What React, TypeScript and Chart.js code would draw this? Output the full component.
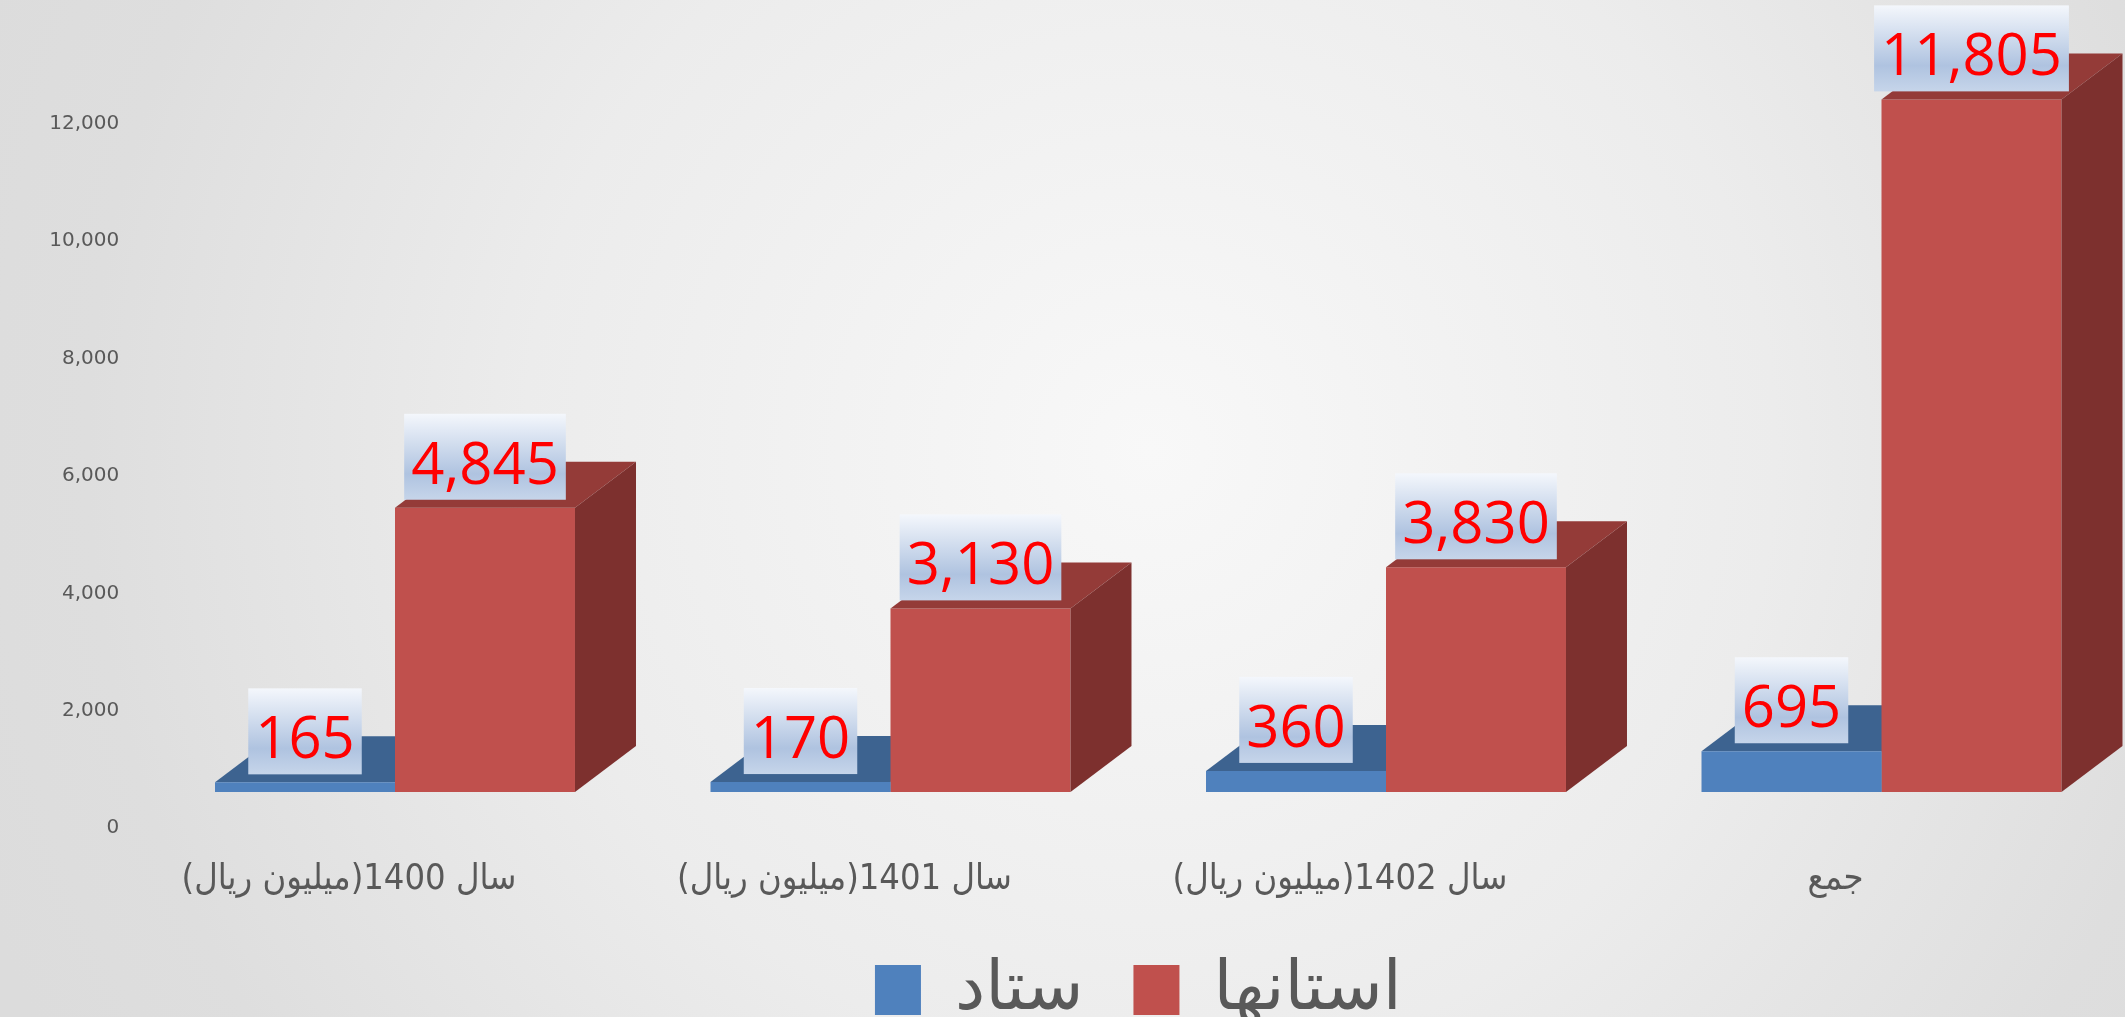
import React, { useEffect, useRef } from "react";
import { Chart, registerables } from "chart.js";

Chart.register(...registerables);

// ---- data ----
const categories = [
  "سال 1400(میلیون ریال)",
  "سال 1401(میلیون ریال)",
  "سال 1402(میلیون ریال)",
  "جمع",
];
const seriesNames = ["ستاد", "استانها"];
const setadValues = [165, 170, 360, 695];
const ostanhaValues = [4845, 3130, 3830, 11805];
const yTickValues = [0, 2000, 4000, 6000, 8000, 10000, 12000];

// ---- layout / style constants ----
const CANVAS_W = 2140;
const CANVAS_H = 1034;
const Y_MAX = 13413;
const FLOOR_SHIFT = 613; // bars stand on a floor drawn behind the axis baseline
const DEPTH_X = 61;
const DEPTH_Y = 46;

const COLORS = {
  blueFront: "#4F81BD",
  blueTop: "#3D6390",
  blueSide: "#34557C",
  redFront: "#C0504D",
  redTop: "#943B38",
  redSide: "#7D302E",
  text: "#595959",
  label: "#FF0000",
};

function drawFaces(ctx: CanvasRenderingContext2D, el: any, topColor: string, sideColor: string) {
  const { x, y, base, width } = el.getProps(["x", "y", "base", "width"], true);
  const l = x - width / 2;
  const r = x + width / 2;
  ctx.fillStyle = topColor;
  ctx.beginPath();
  ctx.moveTo(l, y);
  ctx.lineTo(l + DEPTH_X, y - DEPTH_Y);
  ctx.lineTo(r + DEPTH_X, y - DEPTH_Y);
  ctx.lineTo(r, y);
  ctx.closePath();
  ctx.fill();
  ctx.fillStyle = sideColor;
  ctx.beginPath();
  ctx.moveTo(r, y);
  ctx.lineTo(r + DEPTH_X, y - DEPTH_Y);
  ctx.lineTo(r + DEPTH_X, base - DEPTH_Y);
  ctx.lineTo(r, base);
  ctx.closePath();
  ctx.fill();
}

const bar3dPlugin = {
  id: "bar3d",
  beforeDatasetsDraw(chart: any) {
    const ctx = chart.ctx;
    ctx.save();
    chart.getDatasetMeta(0).data.forEach((el: any) => drawFaces(ctx, el, COLORS.blueTop, COLORS.blueSide));
    ctx.restore();
  },
  afterDatasetsDraw(chart: any) {
    const ctx = chart.ctx;
    ctx.save();
    chart.getDatasetMeta(1).data.forEach((el: any) => drawFaces(ctx, el, COLORS.redTop, COLORS.redSide));
    ctx.restore();
  },
  afterDraw(chart: any) {
    const ctx = chart.ctx;
    ctx.save();
    ctx.font = '58px "Open Sans"';
    ctx.textAlign = "center";
    ctx.textBaseline = "alphabetic";
    chart.data.datasets.forEach((ds: any, di: number) => {
      chart.getDatasetMeta(di).data.forEach((el: any, i: number) => {
        const { x, y } = el.getProps(["x", "y"], true);
        const text = Number(ds.data[i]).toLocaleString("en-US");
        const tw = ctx.measureText(text).width;
        const bw = tw + 14;
        const bh = 86;
        const bx = x - bw / 2;
        const by = y - 8 - bh;
        const g = ctx.createLinearGradient(0, by, 0, by + bh);
        g.addColorStop(0, "#F4F7FC");
        g.addColorStop(0.7, "#AFC3E0");
        g.addColorStop(1, "#C6D5EA");
        ctx.fillStyle = g;
        ctx.fillRect(bx, by, bw, bh);
        ctx.fillStyle = COLORS.label;
        ctx.fillText(text, x, by + bh - 16);
      });
    });
    ctx.restore();
  },
};

export default function App() {
  const canvasRef = useRef<HTMLCanvasElement | null>(null);

  useEffect(() => {
    if (!canvasRef.current) return;
    const chart = new Chart(canvasRef.current, {
      type: "bar",
      data: {
        labels: categories,
        datasets: [
          {
            label: seriesNames[0],
            data: setadValues,
            backgroundColor: COLORS.blueFront,
            borderWidth: 0,
            yAxisID: "y2",
            categoryPercentage: 0.7265,
            barPercentage: 1,
          },
          {
            label: seriesNames[1],
            data: ostanhaValues,
            backgroundColor: COLORS.redFront,
            borderWidth: 0,
            yAxisID: "y2",
            categoryPercentage: 0.7265,
            barPercentage: 1,
          },
        ],
      },
      options: {
        responsive: false,
        animation: false,
        devicePixelRatio: 1,
        events: [],
        layout: { padding: { top: 41, right: 10.75, left: 0, bottom: 0 } },
        scales: {
          x: {
            grid: { display: false, drawTicks: false },
            border: { display: false },
            ticks: {
              padding: 30,
              labelOffset: -46,
              color: COLORS.text,
              maxRotation: 0,
              autoSkip: false,
              font: { family: '"Liberation Sans Narrow", "DejaVu Sans Condensed", "DejaVu Sans", sans-serif', size: 36 },
            },
            afterFit: (s: any) => {
              s.height = 78;
            },
          },
          y: {
            position: "left",
            min: 0,
            max: Y_MAX,
            grid: { display: false, drawTicks: false },
            border: { display: false },
            afterBuildTicks: (s: any) => {
              s.ticks = yTickValues.map((v) => ({ value: v }));
            },
            ticks: {
              padding: 28,
              color: COLORS.text,
              font: { family: '"DejaVu Sans", sans-serif', size: 20 },
              callback: (v: any) => Number(v).toLocaleString("en-US"),
            },
            afterFit: (s: any) => {
              s.width = 147.25;
            },
          },
          y2: {
            display: false,
            min: -FLOOR_SHIFT,
            max: Y_MAX - FLOOR_SHIFT,
          },
        },
        plugins: {
          tooltip: { enabled: false },
          legend: {
            position: "bottom",
            fullSize: false,
            textDirection: "rtl",
            labels: {
              boxWidth: 46,
              boxHeight: 50,
              padding: 50,
              color: COLORS.text,
              font: { family: '"Liberation Sans", "DejaVu Sans", sans-serif', size: 68 },
            },
          },
        },
      },
      plugins: [bar3dPlugin],
    } as any);
    return () => chart.destroy();
  }, []);

  return (
    <div
      style={{
        position: "fixed",
        left: 0,
        top: 0,
        width: "2125px",
        height: "1017px",
        overflow: "hidden",
        background:
          "radial-gradient(circle 1250px at 1150px 450px, #f8f8f8 0%, #ececec 50%, #dedede 85%, #dcdcdc 100%)",
      }}
    >
      <canvas
        ref={canvasRef}
        width={CANVAS_W}
        height={CANVAS_H}
        style={{ display: "block", width: CANVAS_W + "px", height: CANVAS_H + "px", direction: "rtl" }}
      />
    </div>
  );
}
